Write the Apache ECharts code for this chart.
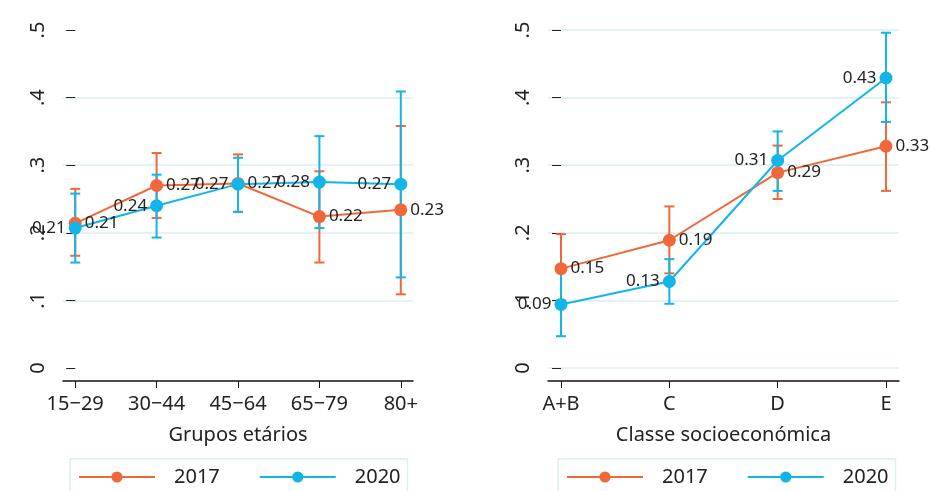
<!DOCTYPE html>
<html><head><meta charset="utf-8">
<script src="https://cdn.jsdelivr.net/npm/echarts@6/dist/echarts.min.js"></script>
<style>html,body{margin:0;padding:0;background:#fff}#c{width:931px;height:491px}</style>
</head><body><div id="c"></div>
<script>
// ---- data ----
const ageCats = ['15\u221229','30\u221244','45\u221264','65\u221279','80+'];
const age2017 = [0.214, 0.270, 0.273, 0.224, 0.234];
const age2017Lo = [0.166, 0.222, 0.231, 0.156, 0.109];
const age2017Hi = [0.265, 0.318, 0.316, 0.291, 0.358];
const age2020 = [0.207, 0.240, 0.272, 0.275, 0.272];
const age2020Lo = [0.156, 0.193, 0.231, 0.207, 0.134];
const age2020Hi = [0.258, 0.286, 0.311, 0.343, 0.409];

const sesCats = ['A+B','C','D','E'];
const ses2017 = [0.147, 0.189, 0.289, 0.328];
const ses2017Lo = [0.100, 0.140, 0.250, 0.262];
const ses2017Hi = [0.198, 0.239, 0.329, 0.393];
const ses2020 = [0.094, 0.128, 0.307, 0.429];
const ses2020Lo = [0.047, 0.095, 0.262, 0.364];
const ses2020Hi = [0.143, 0.161, 0.350, 0.496];

const yTicks = ['0','.1','.2','.3','.4','.5'];
const seriesNames = ['2017','2020'];

const C17 = '#F0683A', C20 = '#12B5E8', GRID = '#DDEEF1';
const FONT = '"Noto Sans", "Open Sans", sans-serif';

function pts(arr){ return arr.map((v,i)=>[i,v]); }
function ebData(lo,hi){ return lo.map((l,i)=>[i,l,hi[i]]); }
function errSeries(lo,hi,color,axis){
  return {
    type:'custom', xAxisIndex:axis, yAxisIndex:axis, z:1, silent:true,
    data: ebData(lo,hi),
    renderItem(params, api){
      const x = api.value(0);
      const p1 = api.coord([x, api.value(1)]);
      const p2 = api.coord([x, api.value(2)]);
      const w = 5;
      const st = {stroke: color, lineWidth: 2};
      return {type:'group', children:[
        {type:'line', shape:{x1:p1[0],y1:p1[1],x2:p2[0],y2:p2[1]}, style:st},
        {type:'line', shape:{x1:p1[0]-w,y1:p1[1],x2:p1[0]+w,y2:p1[1]}, style:st},
        {type:'line', shape:{x1:p2[0]-w,y1:p2[1],x2:p2[0]+w,y2:p2[1]}, style:st}
      ]};
    }
  };
}
function lineSeries(name, vals, color, axis, pos){
  return {
    name, type:'line', xAxisIndex:axis, yAxisIndex:axis, z:3,
    data: pts(vals), symbol:'circle', symbolSize:13,
    itemStyle:{color}, lineStyle:{color, width:2},
    label:{show:true, position:pos, distance:3, fontFamily:FONT, fontSize:17, color:'#222',
      formatter:p=>p.value[1].toFixed(2)}
  };
}
function xAxis(gi, cats, min, max, name){
  return {
    type:'value', gridIndex:gi, min, max, interval:1, offset:13,
    axisLine:{show:true, onZero:false, lineStyle:{color:'#111', width:1.5}},
    axisTick:{show:true, length:7, lineStyle:{color:'#111'}, customValues: cats.map((c,i)=>i)},
    axisLabel:{fontFamily:FONT, fontSize:20, color:'#222', margin:13,
      customValues: cats.map((c,i)=>i),
      formatter:v=>cats[Math.round(v)] ?? ''},
    splitLine:{show:false},
    name, nameLocation:'middle', nameGap:44,
    nameTextStyle:{fontFamily:FONT, fontSize:20, color:'#222'}
  };
}
function yAxis(gi, splitColors){
  return {
    type:'value', gridIndex:gi, min:0, max:0.5, interval:0.1,
    axisLine:{show:false},
    axisTick:{show:true, length:9, lineStyle:{color:'#222'}},
    axisLabel:{fontFamily:FONT, fontSize:20, color:'#222', rotate:90, margin:15,
      formatter:v=>yTicks[Math.round(v*10)]},
    splitLine:{show:true, lineStyle:{color:splitColors, width:1.5}}
  };
}
function legend(left){
  return {
    data: seriesNames, left, top:459, width:340,
    itemWidth:76, itemHeight:14, itemGap:39,
    padding:[8,7,40,8], borderColor:GRID, borderWidth:1.5,
    textStyle:{fontFamily:FONT, fontSize:20, color:'#222', padding:[0,0,0,14]}
  };
}

const chart = echarts.init(document.getElementById('c'), null, {renderer:'canvas'});
chart.setOption({
  animation:false,
  grid:[
    {left:63, top:30, width:350, height:338},
    {left:548, top:30, width:351, height:338}
  ],
  xAxis:[
    xAxis(0, ageCats, -0.15, 4.15, 'Grupos et\u00e1rios'),
    xAxis(1, sesCats, -0.12, 3.12, 'Classe socioecon\u00f3mica')
  ],
  yAxis:[
    yAxis(0, ['rgba(0,0,0,0)',GRID,GRID,GRID,GRID,'rgba(0,0,0,0)']),
    yAxis(1, GRID)
  ],
  legend:[legend(70), legend(558)],
  series:[
    errSeries(age2017Lo, age2017Hi, C17, 0),
    errSeries(age2020Lo, age2020Hi, C20, 0),
    lineSeries(seriesNames[0], age2017, C17, 0, 'right'),
    lineSeries(seriesNames[1], age2020, C20, 0, 'left'),
    errSeries(ses2017Lo, ses2017Hi, C17, 1),
    errSeries(ses2020Lo, ses2020Hi, C20, 1),
    lineSeries(seriesNames[0], ses2017, C17, 1, 'right'),
    lineSeries(seriesNames[1], ses2020, C20, 1, 'left')
  ]
});
</script></body></html>
